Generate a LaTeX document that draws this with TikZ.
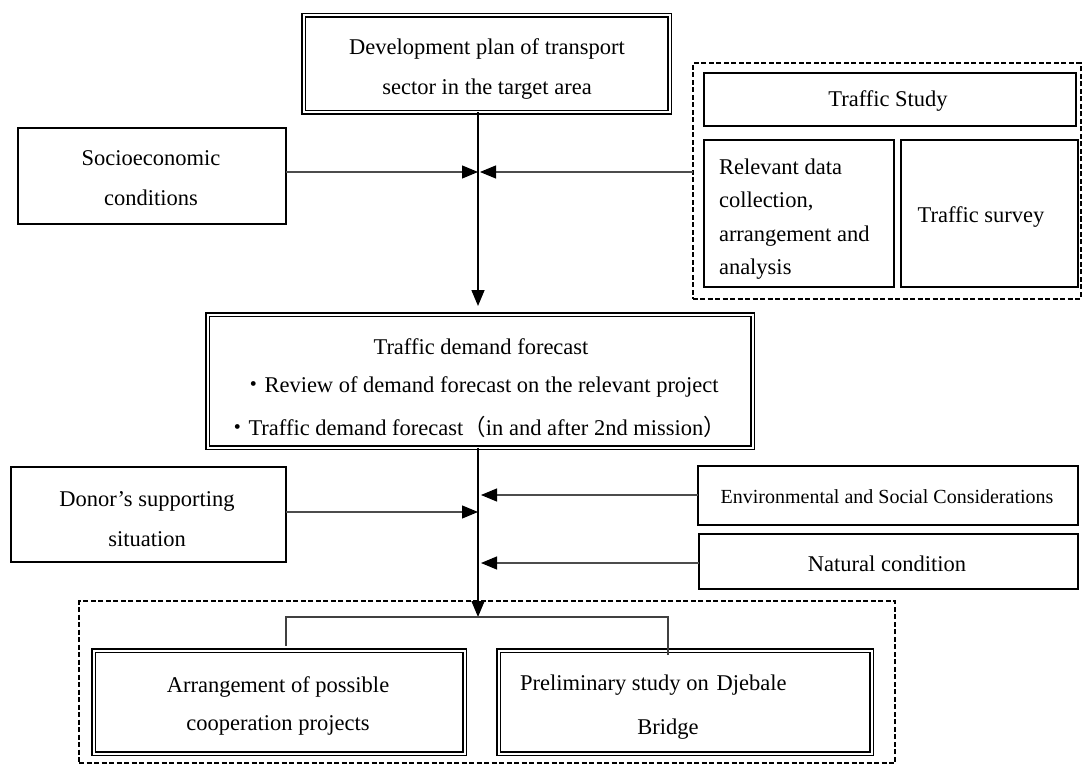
\documentclass[tikz,border=0pt]{standalone}
\usepackage{fontspec}
\setmainfont{Liberation Serif}
\newfontfamily\cjk{Noto Sans CJK JP}
\usetikzlibrary{arrows.meta}
\begin{document}
\begin{tikzpicture}[x=1pt,y=-1pt,
  every node/.style={inner sep=0pt, outer sep=0pt},
  txt/.style={font=\fontsize{22.5}{40}\selectfont, align=center, text=black},
  sbox/.style={draw=black, line width=1.7pt},
  dbox/.style={draw=black, line width=1.7pt, double=white, double distance=2pt},
  grp/.style={draw=black, line width=2pt, dash pattern=on 5pt off 2.5pt},
  feed/.style={draw=black!70, line width=1.1pt, -{Triangle[length=16pt,width=13pt,color=black]}},
  main/.style={draw=black, line width=1.5pt},
  mainarr/.style={main, -{Triangle[length=16pt,width=13pt]}}
]
\useasboundingbox (0,0) rectangle (1083,767);
\fill[white] (0,0) rectangle (1083,767);

% development plan
\node[dbox, minimum width=366pt, minimum height=97pt] (dev) at (486.5,64) {};
\node[txt] (devt) at (487,69) {Development plan of transport\\sector in the target area};

% socioeconomic
\node[sbox, minimum width=268pt, minimum height=96pt] (socio) at (152,176) {};
\node[txt] (sociot) at (151,178) {Socioeconomic\\conditions};

% traffic study group
\node[grp, minimum width=388pt, minimum height=235pt] (tsg) at (886.5,181) {};
\node[sbox, minimum width=372pt, minimum height=53pt] (tstudy) at (890,99.5) {};
\node[txt] (tstudyt) at (888,101) {Traffic Study};
\node[sbox, minimum width=190pt, minimum height=147pt] (rel) at (799,213.5) {};
\node[txt, align=left, anchor=west, font=\fontsize{22.5}{33.5}\selectfont] (relt) at (719,219) {Relevant data\\collection,\\arrangement and\\analysis};
\node[sbox, minimum width=177pt, minimum height=147pt] (tsv) at (989.5,213.5) {};
\node[txt] (tsvt) at (981,217) {Traffic survey};

% traffic demand forecast
\node[dbox, minimum width=545pt, minimum height=133pt] (tdf) at (480,381) {};
\node[txt] (tdft) at (481,347) {Traffic demand forecast};
\node[txt, anchor=west] (tdf2) at (242,387) {{\cjk ・}Review of demand forecast on the relevant project};
\node[txt, anchor=west] (tdf3) at (226,427) {{\cjk ・}Traffic demand forecast{\cjk （}in and after 2nd mission{\cjk ）}};

% donor
\node[sbox, minimum width=275pt, minimum height=95pt] (donor) at (148.5,514.5) {};
\node[txt] (donort) at (147,519) {Donor's supporting\\situation};

% environmental / natural
\node[sbox, minimum width=380pt, minimum height=59pt] (env) at (888,495.5) {};
\node[txt, font=\fontsize{20}{24}\selectfont] (envt) at (887,497) {Environmental and Social Considerations};
\node[sbox, minimum width=379pt, minimum height=55pt] (nat) at (888.5,561.5) {};
\node[txt] (natt) at (887,564) {Natural condition};

% bottom group
\node[grp, minimum width=816pt, minimum height=162pt] (bg) at (487,682) {};
\node[dbox, minimum width=371pt, minimum height=103pt] (arr) at (279,702) {};
\node[txt, font=\fontsize{22.5}{38}\selectfont] (arrt) at (278,706) {Arrangement of possible\\cooperation projects};
\node[dbox, minimum width=373pt, minimum height=103pt] (pre) at (685,702) {};
\node[txt, anchor=west] (pret) at (520,685) {Preliminary study on\hspace{8pt}Djebale};
\node[txt] (pret2) at (668,729) {Bridge};

% junction coordinates
\coordinate (j1) at (478,172);
\coordinate (j1r) at (480,172);
\coordinate (j2) at (478,306);
\coordinate (jd) at (478,512);
\coordinate (je) at (481,495);
\coordinate (jn) at (481,563);
\coordinate (jb) at (478,617);
\coordinate (bl) at (286,617);
\coordinate (br) at (668,617);

% connectors
\draw[mainarr] (dev.south -| j2) -- (j2);
\draw[feed] (socio.east |- j1) -- (j1);
\draw[feed] (tsg.west |- j1r) -- (j1r);
\draw[mainarr] (tdf.south -| jb) -- (jb);
\draw[feed] (donor.east |- jd) -- (jd);
\draw[feed] (env.west |- je) -- (je);
\draw[feed] (nat.west |- jn) -- (jn);
\draw[draw=black!75, line width=1.1pt] (bl |- arr.north) ++(0,-5) -- (bl) -- (br) -- ([yshift=-4pt]br |- pre.north);
\end{tikzpicture}
\end{document}
